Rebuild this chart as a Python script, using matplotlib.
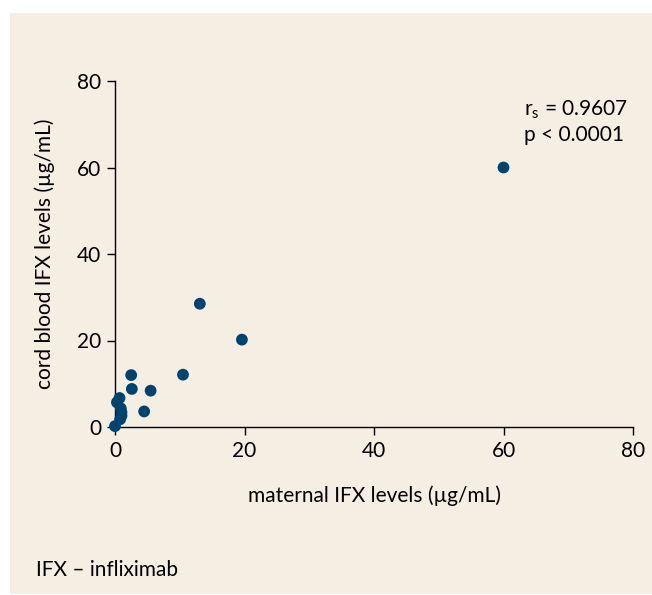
import matplotlib.pyplot as plt
from matplotlib.patches import Rectangle

# data
maternal = [0.0, 0.3, 0.7, 0.9, 1.0, 1.0, 0.8, 2.5, 2.6, 4.5, 5.5, 10.5, 13.1, 19.6, 60.0]
cord = [0.2, 5.7, 6.7, 4.3, 3.4, 2.6, 1.8, 12.0, 8.8, 3.6, 8.4, 12.1, 28.5, 20.2, 60.0]
ticks = [0, 20, 40, 60, 80]

bg = '#F5EEE3'
dot = '#00436E'
fs = 15
plt.rcParams['font.family'] = ['Lato', 'DejaVu Sans']

fig = plt.figure(figsize=(6.52, 5.95), dpi=100)
fig.patch.set_facecolor('white')
# beige panel behind everything
fig.patches.append(Rectangle((10 / 652, 1 / 595), 642 / 652, 581 / 595,
                             transform=fig.transFigure, facecolor=bg,
                             edgecolor='none', zorder=-10))

ax = fig.add_axes([115 / 652, 1 - 427 / 595, 518 / 652, 346 / 595])
ax.set_facecolor('none')
ax.scatter(maternal, cord, s=72, color=dot, edgecolors='none', clip_on=False, zorder=3)

ax.set_xlim(0, 80)
ax.set_ylim(0, 80)
ax.set_xticks(ticks)
ax.set_yticks(ticks)
for s in ['top', 'right']:
    ax.spines[s].set_visible(False)
for s in ['left', 'bottom']:
    ax.spines[s].set_linewidth(1.0)
ax.tick_params(direction='out', length=6, width=1.0, labelsize=fs, pad=4)

ax.set_xlabel('maternal IFX levels (µg/mL)', fontsize=fs, labelpad=18)
ax.set_ylabel('cord blood IFX levels (µg/mL)', fontsize=fs, labelpad=16)

ax.text(0.79, 0.918, r'r$_\mathregular{s}$ = 0.9607', transform=ax.transAxes,
        fontsize=fs, va='center', ha='left')
ax.text(0.79, 0.845, 'p < 0.0001', transform=ax.transAxes,
        fontsize=fs, va='center', ha='left')

fig.text(36 / 652, 1 - 570 / 595, 'IFX – infliximab', fontsize=fs, va='center', ha='left')

fig.savefig('out.png', dpi=100)
